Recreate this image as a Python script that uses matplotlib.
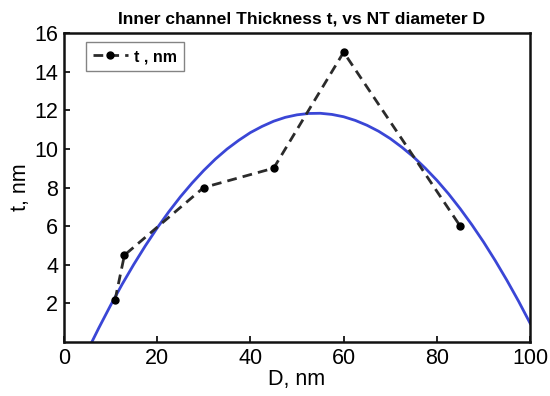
import matplotlib
matplotlib.use("Agg")
import matplotlib.pyplot as plt

# measured points (dashed line)
d_nm = [11, 13, 30, 45, 60, 85]
t_nm = [2.2, 4.5, 8.0, 9.0, 15.0, 6.0]

# blue fit curve
fit_d = [6, 7.5, 10, 12.5, 15, 17.5, 20, 22.5, 25, 27.5, 30, 32.5, 35, 37.5,
         40, 42.5, 45, 47.5, 50, 52.5, 55, 57.5, 60, 62.5, 65, 67.5, 70, 72.5,
         75, 77.5, 80, 82.5, 85, 87.5, 90, 92.5, 95, 97.5, 100]
fit_t = [0.0, 0.73, 1.89, 2.99, 4.02, 4.99, 5.90, 6.74, 7.52, 8.23, 8.88, 9.47,
         9.99, 10.44, 10.84, 11.16, 11.43, 11.63, 11.76, 11.83, 11.84, 11.78,
         11.66, 11.47, 11.22, 10.91, 10.53, 10.08, 9.58, 9.00, 8.37, 7.67,
         6.90, 6.07, 5.18, 4.22, 3.20, 2.12, 0.97]

x_ticks = [0, 20, 40, 60, 80, 100]
y_ticks = [2, 4, 6, 8, 10, 12, 14, 16]

plt.rcParams['font.family'] = ['Liberation Sans', 'DejaVu Sans']

fig = plt.figure(figsize=(5.5, 3.96), dpi=100)
ax = fig.add_axes([0.116, 0.136, 0.848, 0.781])

ax.plot(fit_d, fit_t, color='#3a46d6', lw=2, solid_joinstyle='round')
ax.plot(d_nm, t_nm, color='#2b2b2b', lw=2, ls=(0, (3.5, 2.2)),
        marker='o', ms=5, mfc='black', mec='black', label='t , nm')

ax.set_xlim(0, 100)
ax.set_ylim(0, 16)
ax.set_xticks(x_ticks)
ax.set_yticks(y_ticks)
ax.tick_params(direction='in', length=4, width=1.2, labelsize=15.5, pad=4)

for sp in ax.spines.values():
    sp.set_linewidth(1.8)
    sp.set_color('#111111')

ax.set_xlabel('D, nm', fontsize=15.5, labelpad=0)
ax.set_ylabel('t, nm', fontsize=15.5, labelpad=2)
ax.set_title('Inner channel Thickness t, vs NT diameter D', fontsize=12.6,
             fontweight='bold', pad=7, x=0.51)

leg = ax.legend(loc='upper left', bbox_to_anchor=(0.047, 0.971),
                borderaxespad=0, frameon=True, fancybox=False,
                edgecolor='#666666', handlelength=2.2, handletextpad=0.35,
                borderpad=0.45, prop={'weight': 'bold', 'size': 11.5})
leg.get_frame().set_linewidth(1.0)

fig.savefig('out.png', dpi=100)
